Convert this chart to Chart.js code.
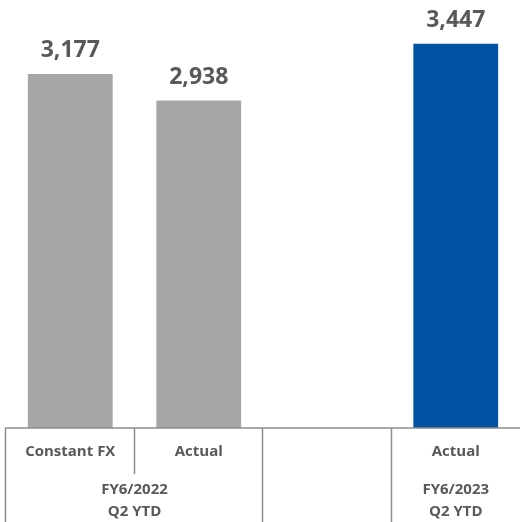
<!DOCTYPE html>
<html>
<head>
<meta charset="utf-8">
<script src="https://cdn.jsdelivr.net/npm/chart.js@4/dist/chart.umd.min.js"></script>
<style>
  body { margin: 0; background: #fff; }
</style>
</head>
<body>
<canvas id="myChart" width="520" height="522"></canvas>
<script>
// chart values
let categories = ['Constant FX', 'Actual', '', 'Actual'];
let values = [3177, 2938, null, 3447];
let barColors = ['#a6a6a6', '#a6a6a6', '#a6a6a6', '#0052a3'];
// second row of the table: label lines and first/last category index
let groupLabels = [['FY6/2022', 'Q2 YTD'], [], ['FY6/2023', 'Q2 YTD']];
let groupStart = [0, 2, 3];
let groupEnd = [1, 2, 3];

let textColor = '#595959';
let lineColor = '#8c8c8c';

// value labels over the bars
let valueLabels = {
    id: 'valueLabels',
    afterDatasetsDraw(chart) {
        let ctx = chart.ctx;
        let meta = chart.getDatasetMeta(0);
        ctx.save();
        ctx.font = 'bold 23px "Open Sans"';
        ctx.fillStyle = textColor;
        ctx.textAlign = 'center';
        ctx.textBaseline = 'alphabetic';
        meta.data.forEach((bar, i) => {
            if (values[i] == null) return;
            ctx.fillText(values[i].toLocaleString('en-US'), bar.x, bar.y - 17);
        });
        ctx.restore();
    }
};

// table under the bars
let tableAxis = {
    id: 'tableAxis',
    afterDraw(chart) {
        let ctx = chart.ctx;
        let x = chart.scales.x;
        let area = chart.chartArea;
        let half = (x.getPixelForValue(1) - x.getPixelForValue(0)) / 2;
        let top = area.bottom;
        let row1 = top + 46;
        let bottom = chart.height;

        ctx.save();
        ctx.strokeStyle = lineColor;
        ctx.lineWidth = 1.5;
        ctx.beginPath();
        ctx.moveTo(area.left - 1, top);
        ctx.lineTo(area.right, top);
        ctx.stroke();

        // group borders
        groupStart.forEach((s) => {
            let lx = Math.round(x.getPixelForValue(s) - half) - 0.5;
            ctx.beginPath();
            ctx.moveTo(lx, top);
            ctx.lineTo(lx, bottom);
            ctx.stroke();
        });
        // dividers inside a group, first row only
        groupStart.forEach((s, g) => {
            for (let i = s + 1; i <= groupEnd[g]; i++) {
                let lx = Math.round(x.getPixelForValue(i) - half) - 0.5;
                ctx.beginPath();
                ctx.moveTo(lx, top);
                ctx.lineTo(lx, row1);
                ctx.stroke();
            }
        });

        ctx.fillStyle = textColor;
        ctx.textAlign = 'center';
        ctx.textBaseline = 'middle';
        ctx.font = 'bold 15px "Open Sans"';
        categories.forEach((c, i) => {
            ctx.fillText(c, x.getPixelForValue(i), top + 24);
        });
        groupLabels.forEach((lines, g) => {
            let cx = (x.getPixelForValue(groupStart[g]) + x.getPixelForValue(groupEnd[g])) / 2;
            lines.forEach((t, k) => {
                ctx.fillText(t, cx, top + 62 + k * 22);
            });
        });
        ctx.restore();
    }
};

new Chart(document.getElementById('myChart').getContext('2d'), {
    type: 'bar',
    data: {
        labels: categories,
        datasets: [{
            data: values,
            backgroundColor: barColors,
            borderWidth: 0,
            barPercentage: 0.66,
            categoryPercentage: 1
        }]
    },
    options: {
        responsive: false,
        animation: false,
        layout: { padding: { left: 6, right: 0, top: 0, bottom: 94 } },
        plugins: {
            legend: { display: false },
            tooltip: { enabled: false }
        },
        scales: {
            x: { display: false },
            y: { display: false, min: 0, max: 3840 }
        }
    },
    plugins: [valueLabels, tableAxis]
});
</script>
</body>
</html>
